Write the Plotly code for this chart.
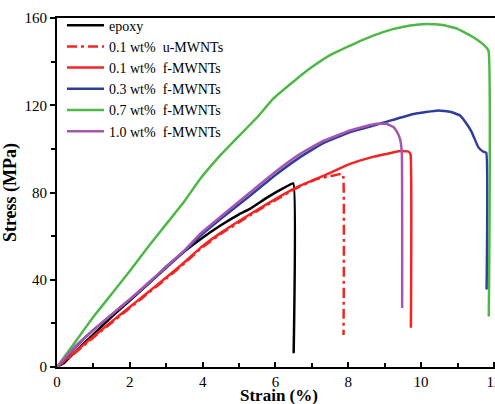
import plotly.graph_objects as go

# ---- data (strain %, stress MPa) ----
names = ["epoxy", "0.1 wt%\u00a0 u-MWNTs", "0.1 wt%\u00a0 f-MWNTs",
         "0.3 wt%\u00a0 f-MWNTs", "0.7 wt%\u00a0 f-MWNTs", "1.0 wt%\u00a0 f-MWNTs"]

epoxy_x = [0, 0.2, 0.5, 1, 1.5, 2, 2.5, 2.78, 3, 3.5, 3.93, 4.5, 5, 5.3, 5.8, 6.22, 6.49, 6.5]
epoxy_y = [0, 2, 7, 15, 23, 30.5, 38, 42.4, 46, 53, 58.5, 65, 70, 72.5, 78, 82, 84.2, 6.3]

u01_x = [0, 0.5, 1, 1.5, 2, 2.5, 3, 3.5, 3.93, 4.5, 5.3, 6, 6.49, 7.13, 7.5, 7.82, 7.86, 7.87]
u01_y = [0, 6.5, 13.5, 20.3, 27, 33.8, 40.5, 47.5, 54, 61, 69.5, 76.5, 81.3, 86.2, 87.5, 88.5, 88, 14.7]

f01_x = [0, 0.5, 1, 1.5, 2, 2.5, 3, 3.5, 3.93, 4.5, 5.3, 6, 6.68, 7.3, 8.05, 8.6, 9.0, 9.42, 9.65, 9.71, 9.72]
f01_y = [0, 7, 14, 20.8, 27.5, 34.3, 41, 48, 54.5, 61.5, 70, 77, 83.1, 87.5, 93.1, 96, 97.5, 99, 98.8, 97.5, 18]

f03_x = [0, 0.5, 1, 1.5, 2, 2.5, 3, 3.5, 3.93, 4.5, 5.3, 6, 6.68, 7.3, 8.05, 8.96, 9.79,
         10.47, 10.8, 11.07, 11.25, 11.39, 11.57, 11.7, 11.79, 11.8]
f03_y = [0, 9, 17, 24, 31, 38, 45.5, 53, 60, 68, 78.5, 88, 96.2, 102.5, 107.7, 112, 116,
         117.6, 117, 115.3, 111.5, 107.7, 100.8, 98.8, 98.2, 35.5]

f07_x = [0, 0.5, 1, 1.5, 2, 2.5, 3, 3.5, 3.93, 4.52, 5, 5.5, 5.94, 6.54, 7, 7.5, 8.19, 8.7,
         9.2, 9.7, 10.15, 10.6, 11.0, 11.4, 11.7, 11.85, 11.86]
f07_y = [0, 11.5, 23, 33.5, 44, 55, 65.5, 76, 86.2, 97.7, 106, 114.5, 123, 131.5, 137.5,
         143, 148.4, 152, 154.8, 156.6, 157.3, 156.8, 155, 151.5, 148, 145, 23.2]

f10_x = [0, 0.5, 1, 1.5, 2, 2.5, 3, 3.5, 3.93, 4.5, 5.3, 6, 6.68, 7.3, 8.05, 8.5, 8.78,
         9.05, 9.24, 9.35, 9.42, 9.47, 9.48]
f10_y = [0, 9.5, 17, 24, 31, 38.5, 46, 53.5, 61, 69, 80, 89.5, 97.7, 103.5, 108.4, 110.5,
         111.5, 111.5, 110, 107.5, 104.6, 98.5, 27]

x_ticks = [0, 2, 4, 6, 8, 10, 12]
y_ticks = [0, 40, 80, 120, 160]
x_title = "Strain (%)"
y_title = "Stress (MPa)"

colors = ["#000000", "#F42424", "#F42424", "#2F3E9E", "#4DB848", "#A557B0"]
dashes = ["solid", "10px,4px,3px,4px", "solid", "solid", "solid", "solid"]
xs = [epoxy_x, u01_x, f01_x, f03_x, f07_x, f10_x]
ys = [epoxy_y, u01_y, f01_y, f03_y, f07_y, f10_y]

font_family = "Liberation Serif, Times New Roman, serif"

fig = go.Figure()
for n, x, y, c, d in zip(names, xs, ys, colors, dashes):
    fig.add_trace(go.Scatter(x=x, y=y, mode="lines", name=n,
                             line=dict(color=c, width=2.5, dash=d, shape="spline", smoothing=0.3)))

fig.add_annotation(text="<b>%s</b>" % x_title, xref="paper", yref="paper",
                   x=0.506, y=-0.082, xanchor="center", yanchor="middle", showarrow=False,
                   font=dict(size=17, family=font_family, color="black"))

fig.update_layout(
    width=495, height=404,
    margin=dict(l=57, r=0, t=18, b=37, autoexpand=False),
    paper_bgcolor="white", plot_bgcolor="white",
    font=dict(family=font_family, size=15, color="black"),
    showlegend=True,
    legend=dict(x=0.0114, y=1.024, xanchor="left", yanchor="top",
                bgcolor="rgba(0,0,0,0)", font=dict(size=14, family=font_family),
                itemwidth=37, tracegroupgap=0),
    xaxis=dict(range=[0, 12.03], tickvals=x_ticks, ticktext=[str(v) for v in x_ticks],
               showline=True, linecolor="black", linewidth=2, mirror=True,
               ticks="inside", ticklen=5, tickwidth=2, tickcolor="black",
               ticklabeloverflow="allow",
               minor=dict(dtick=1, ticks="inside", ticklen=4, tickwidth=1.5, tickcolor="black"),
               showgrid=False, zeroline=False, automargin=False),
    yaxis=dict(range=[0, 160], tickvals=y_ticks, ticktext=[str(v) for v in y_ticks],
               showline=True, linecolor="black", linewidth=2, mirror=False,
               ticks="outside", ticklen=5, tickwidth=2, tickcolor="black",
               minor=dict(dtick=20, ticks="outside", ticklen=4, tickwidth=1.5, tickcolor="black"),
               showgrid=False, zeroline=False, automargin=False,
               title=dict(text="<b>%s</b>" % y_title, font=dict(size=18, family=font_family), standoff=4)),
)

fig.write_html("out.html", config={"displayModeBar": False},
               post_script="document.body.style.margin='0';document.body.style.overflow='hidden';")
